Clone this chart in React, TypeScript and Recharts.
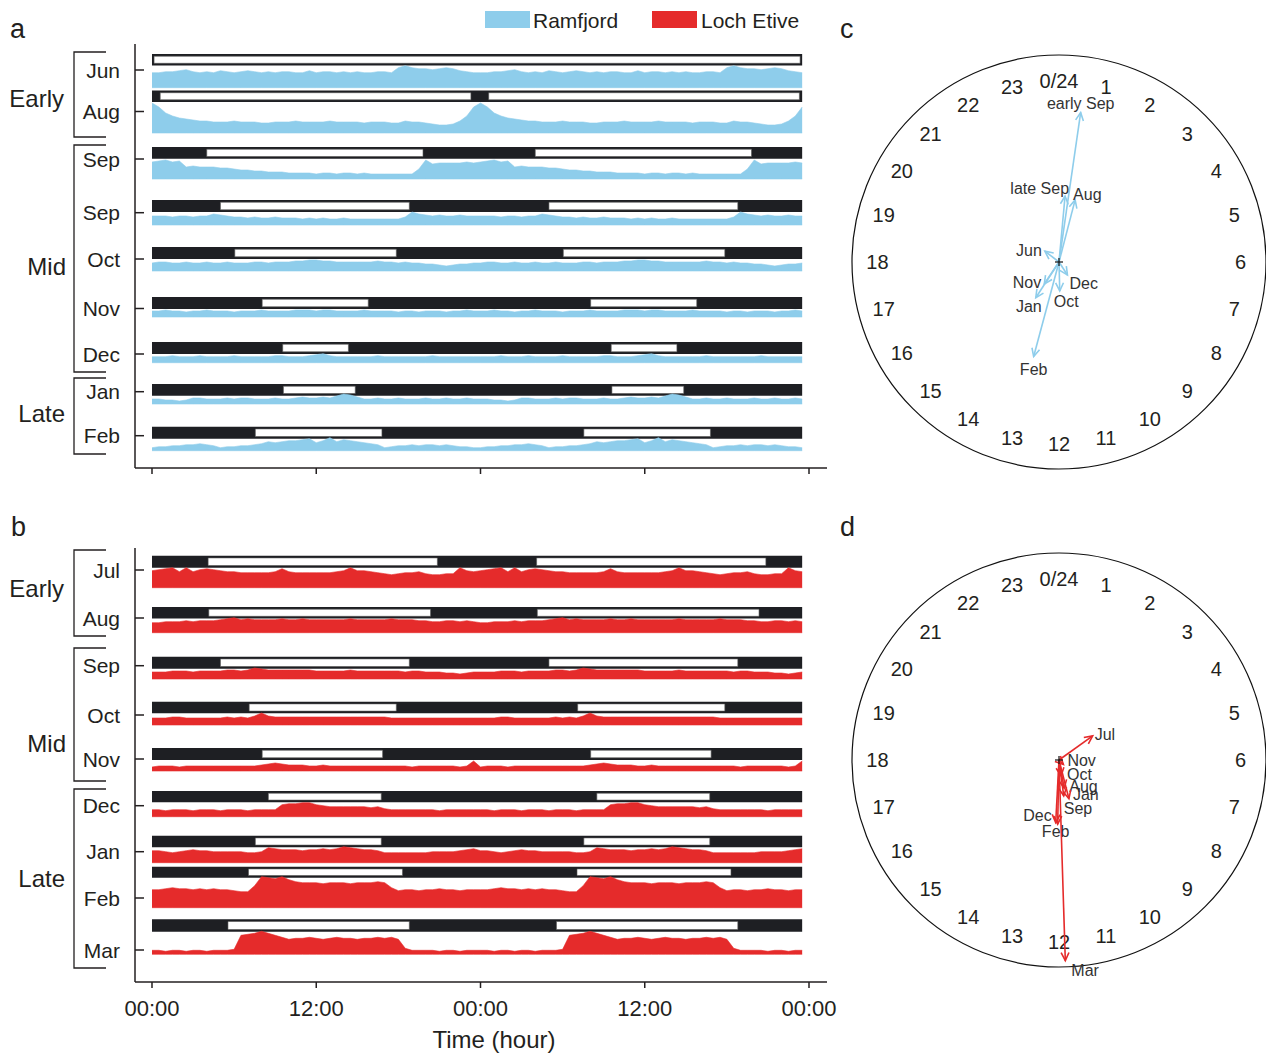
import React from 'react';
import {
  ComposedChart, Area, XAxis, YAxis, ReferenceArea,
  ScatterChart, Scatter, ReferenceDot,
} from 'recharts';

const FONT = '"Liberation Sans", Arial, Helvetica, sans-serif';
const BLUE = '#8ecdeb';
const RED = '#e52b2b';
const INK = '#231f20';
const NIGHT = '#1e1f23';

// ---------- Ramfjord (panel a) : 24-h activity profiles, half-hour bins 00:00..23:30 ----------
const RAM_MONTHS = ['Jun', 'Aug', 'Sep', 'Sep', 'Oct', 'Nov', 'Dec', 'Jan', 'Feb'];
const RAM_JUN = [15,15,16,16,17,18,16,15,16,15,17,16,15,16,17,16,15,16,15,16,16,15,15,17,15,16,16,15,16,15,16,15,15,16,16,15,20,22,20,19,19,18,19,20,19,17,16,15];
const RAM_AUG = [30,26,20,17,15,14,13,12,12,11,11,11,12,11,11,11,10,10,11,11,11,12,11,11,11,11,12,11,11,11,11,10,11,11,11,10,10,12,11,11,10,9,8,8,9,12,17,26];
const RAM_SEP1 = [17,18,19,17,18,12,13,12,12,12,11,11,10,9,9,8,8,7,7,7,6,6,6,6,5,6,6,5,6,6,5,6,5,5,5,5,5,5,5,10,19,15,16,16,16,16,17,16];
const RAM_SEP2 = [9,9,9,8,9,9,8,9,9,11,10,9,8,8,7,8,7,7,8,7,7,7,6,7,6,7,6,6,7,6,6,6,6,6,6,6,6,8,13,11,10,9,10,9,9,10,9,9];
const RAM_OCT = [8,9,9,8,8,9,8,8,9,8,8,9,8,8,8,9,9,8,9,9,9,10,10,11,11,10,10,9,9,9,9,9,9,10,9,9,8,9,8,8,7,7,6,5,6,7,7,8];
const RAM_NOV = [6,6,7,6,6,5,6,6,7,6,6,6,5,6,6,6,7,6,6,6,6,7,7,7,6,7,7,6,6,6,6,7,6,6,6,6,5,6,6,5,6,6,6,5,6,6,7,6];
const RAM_DEC = [6,6,6,7,6,6,6,7,6,6,6,6,7,6,6,6,6,6,7,7,6,6,6,7,8,9,7,6,6,6,6,6,6,7,6,6,6,6,6,6,6,7,6,6,6,6,6,6];
const RAM_JAN = [5,5,4,4,3,4,6,6,5,5,5,6,5,6,6,5,5,5,6,5,5,6,7,6,6,7,6,8,10,9,7,5,5,6,5,5,6,5,5,5,6,5,5,6,5,5,6,5];
const RAM_FEB = [3,4,4,5,5,6,6,7,6,5,3,4,4,5,5,6,7,9,8,9,10,10,11,12,8,10,13,9,11,10,9,8,7,6,3,4,5,5,6,5,6,6,5,6,5,4,4,3];
const RAM_SUNRISE = [0, 0.6, 4.0, 5.0, 6.05, 8.05, 9.55, 9.6, 7.55];
const RAM_SUNSET = [24, 23.3, 19.8, 18.8, 17.85, 15.8, 14.35, 14.85, 16.8];

// ---------- Loch Etive (panel b) ----------
const LE_MONTHS = ['Jul', 'Aug', 'Sep', 'Oct', 'Nov', 'Dec', 'Jan', 'Feb', 'Mar'];
const LE_JUL = [17,18,19,20,16,20,16,18,19,18,17,16,16,15,15,15,15,15,16,19,16,15,15,15,15,15,15,16,17,20,17,17,16,15,14,13,14,15,15,16,14,13,13,14,14,20,17,16];
const LE_AUG = [10,10,11,11,11,12,11,12,12,12,13,14,15,13,14,13,13,13,13,14,13,13,14,13,13,13,13,13,13,14,13,13,13,13,13,14,13,13,13,12,12,11,11,12,12,11,12,11];
const LE_SEP = [7,7,7,8,8,8,7,8,8,8,8,9,9,8,9,11,10,9,9,9,9,9,9,9,8,8,8,8,8,9,8,8,8,8,8,8,8,7,8,8,7,7,7,6,6,5,6,7];
const LE_OCT = [7,7,7,8,8,7,7,7,7,7,7,8,7,8,7,9,12,9,8,8,8,8,8,8,8,8,8,8,8,8,8,8,8,8,8,7,7,7,7,7,7,7,7,7,7,7,7,7];
const LE_NOV = [4,5,5,5,4,5,5,5,5,5,5,5,5,5,5,5,6,7,8,7,6,6,6,5,5,6,5,5,5,5,5,5,5,5,5,5,5,5,4,5,5,5,5,5,5,4,5,10];
const LE_DEC = [7,7,6,7,7,7,6,7,7,7,6,7,7,7,6,7,7,7,7,12,13,13,14,14,12,11,10,10,10,10,10,10,9,10,8,7,7,7,7,7,7,7,6,7,7,7,7,7];
const LE_JAN = [12,12,11,10,11,12,13,12,12,11,11,11,11,11,10,10,11,15,14,13,13,13,12,13,13,14,13,14,16,15,14,13,13,12,10,10,10,10,10,10,10,11,11,11,11,12,13,14];
const LE_FEB = [18,18,19,20,19,19,18,19,18,19,18,18,17,16,16,22,31,30,29,31,28,26,25,25,25,24,25,25,25,24,25,25,25,26,25,20,17,18,18,17,18,18,19,18,18,17,18,18];
const LE_MAR = [4,4,3,4,4,3,4,4,3,4,4,4,5,19,20,21,23,21,19,17,15,16,16,17,16,15,16,17,16,16,15,16,16,17,16,17,15,6,4,4,4,4,3,4,4,3,4,4];
const LE_SUNRISE = [4.1, 4.15, 5.0, 7.1, 8.05, 8.5, 7.55, 7.05, 5.55];
const LE_SUNSET = [20.85, 20.35, 18.8, 17.85, 16.85, 16.75, 16.75, 18.3, 18.8];

// ---------- Clock vectors (mean phase hour, vector length relative to circle) ----------
const RAM_VEC_LABELS = ['early Sep', 'late Sep', 'Aug', 'Jun', 'Dec', 'Oct', 'Nov', 'Jan', 'Feb'];
const RAM_VEC_HOUR = [0.55, 0.35, 0.97, 20.5, 9.8, 11.9, 14.25, 14.2, 13.0];
const RAM_VEC_LEN = [0.73, 0.32, 0.31, 0.086, 0.075, 0.14, 0.128, 0.206, 0.473];
const LE_VEC_LABELS = ['Jul', 'Nov', 'Oct', 'Aug', 'Jan', 'Sep', 'Dec', 'Feb', 'Mar'];
const LE_VEC_HOUR = [3.63, 9.0, 11.5, 11.3, 11.04, 11.5, 12.2, 12.08, 11.88];
const LE_VEC_LEN = [0.2, 0.03, 0.077, 0.138, 0.193, 0.175, 0.303, 0.31, 0.97];

const CLOCK_HOURS = [0,1,2,3,4,5,6,7,8,9,10,11,12,13,14,15,16,17,18,19,20,21,22,23];
const CLOCK_LABELS = ['0/24','1','2','3','4','5','6','7','8','9','10','11','12','13','14','15','16','17','18','19','20','21','22','23'];

const X_TICKS = [0, 12, 24, 36, 48];
const X_TICK_LABELS = ['00:00', '12:00', '00:00', '12:00', '00:00'];

// ---------- layout (pixels) ----------
// rows: [barTop, barBottom, areaBaseline, tickY]
const RAM_ROWS = [
  [54, 65.5, 87.7, 70], [90.5, 102, 133, 111.5], [147, 158.7, 179, 159], [200, 212, 225, 212.7],
  [247, 259, 271, 259], [297, 309, 317, 308.5], [342, 354, 362.7, 354], [384, 395.7, 404, 391.7],
  [426.7, 438.7, 450.7, 435.7],
];
const LE_ROWS = [
  [555.7, 567.7, 587.7, 570], [607, 618.5, 632.7, 618], [656.7, 668.7, 679, 665.7], [701.7, 713.3, 725, 715],
  [748, 760, 771, 759], [791, 802.3, 816.7, 805.7], [835.7, 847.3, 862.7, 851.7], [866.7, 877.7, 907.7, 898],
  [919.3, 931.7, 954.3, 950],
];
const X_DOMAIN: [number, number] = [-1.242, 49.315];
const DATA_END = 47.5;
const TIME_BINS = Array.from({ length: 96 }, (_, i) => i * 0.5);

// label offsets for arrow labels [dx, dy, anchor]
const RAM_LABEL_POS: [number, number, string][] = [
  [0, -9, 'middle'], [4, -8, 'end'], [-2, -6, 'start'], [-3, -1, 'end'], [2, 8, 'start'],
  [-6, 10, 'start'], [-3, -2, 'end'], [6, 8, 'end'], [0, 13, 'middle'],
];
const LE_LABEL_POS: [number, number, string][] = [
  [2, -2, 'start'], [4, -4, 'start'], [6, -2, 'start'], [5, -2, 'start'], [4, -4, 'start'],
  [0, 12, 'start'], [-4, -7, 'end'], [-2, 7, 'middle'], [6, 10, 'start'],
];

function dayIntervals(sr: number, ss: number) {
  const iv = [[sr, ss], [sr + 24, ss + 24]]
    .map(([a, b]) => [Math.max(0, a), Math.min(DATA_END, b)])
    .filter(([a, b]) => b > a);
  const out: number[][] = [];
  iv.forEach(([a, b]) => {
    const last = out[out.length - 1];
    if (last && a <= last[1] + 1e-6) last[1] = Math.max(last[1], b);
    else out.push([a, b]);
  });
  return out.map(([a, b]) => [a <= 0 ? 0.15 : a, b >= DATA_END ? DATA_END - 0.15 : b]);
}

const MonthTick = (props: any) => {
  const { x, y, label } = props;
  return (
    <g>
      <line x1={x} x2={x + 9} y1={y} y2={y} stroke={INK} strokeWidth={1.5} />
      <text x={x - 15} y={y} dy="0.36em" textAnchor="end" fontSize={21} fill={INK} fontFamily={FONT}>{label}</text>
    </g>
  );
};

function Actogram(props: any) {
  const { top, plotH, axisH, months, profiles, sunrise, sunset, rows, color, showTickLabels } = props;
  const data = TIME_BINS.map((t, k) => {
    const r: any = { t };
    profiles.forEach((p: number[], i: number) => { r['v' + i] = p[k % 48]; });
    return r;
  });
  const ticks = rows.map((r: number[]) => r[3] - top);
  return (
    <div style={{ position: 'absolute', left: 0, top }}>
      <ComposedChart width={862} height={plotH + axisH} data={data} margin={{ top: 0, right: 35, bottom: 0, left: 0 }}>
        <XAxis
          type="number" dataKey="t" domain={X_DOMAIN} allowDataOverflow ticks={X_TICKS} interval={0}
          tickFormatter={(v: number) => (showTickLabels ? X_TICK_LABELS[X_TICKS.indexOf(v)] : '')}
          height={axisH} tickSize={6} tickMargin={12}
          axisLine={{ stroke: INK, strokeWidth: 1.5 }} tickLine={{ stroke: INK, strokeWidth: 1.5 }}
          tick={{ fontSize: 22, fill: INK, fontFamily: FONT }}
        />
        <YAxis
          type="number" domain={[0, plotH]} reversed allowDataOverflow ticks={ticks} interval={0}
          width={135} tickSize={0} tickMargin={0} tickLine={false}
          axisLine={{ stroke: INK, strokeWidth: 1.5 }}
          tick={(p: any) => {
            const idx = ticks.indexOf(p.payload.value);
            return <MonthTick x={p.x} y={p.y} label={months[idx >= 0 ? idx : p.index]} />;
          }}
        />
        {rows.map((r: number[], i: number) => (
          <ReferenceArea key={'n' + i} x1={0} x2={DATA_END} y1={r[0] - top} y2={r[1] - top}
            fill={NIGHT} fillOpacity={1} stroke="none" ifOverflow="visible" />
        ))}
        {rows.map((r: number[], i: number) =>
          dayIntervals(sunrise[i], sunset[i]).map(([a, b], j) => (
            <ReferenceArea key={'d' + i + '-' + j} x1={a} x2={b} y1={r[0] - top + 2.2} y2={r[1] - top - 2.2}
              fill="#ffffff" fillOpacity={1} stroke="#555" strokeWidth={0.6} ifOverflow="visible" />
          ))
        )}
        {profiles.map((_: number[], i: number) => {
          const base = rows[i][2] - top;
          return (
            <Area key={'a' + i} type="linear"
              dataKey={(d: any) => [base, base - d['v' + i]]}
              fill={color} fillOpacity={1} stroke={color} strokeWidth={0.6}
              dot={false} activeDot={false} isAnimationActive={false} />
          );
        })}
      </ComposedChart>
    </div>
  );
}

function makeArrowShape(color: string) {
  return (props: any) => {
    const { cx, cy, payload } = props;
    if (!payload || !payload.tip || cx == null) return <g />;
    const a = (payload.hour / 24) * 2 * Math.PI;
    const ux = Math.sin(a);
    const uy = -Math.cos(a);
    const L = 9;
    const head = (s: number) => {
      const rx = ux * Math.cos(s) - uy * Math.sin(s);
      const ry = ux * Math.sin(s) + uy * Math.cos(s);
      return [cx - L * rx, cy - L * ry];
    };
    const [ax, ay] = head(0.45);
    const [bx, by] = head(-0.45);
    return (
      <g>
        <polyline points={`${ax},${ay} ${cx},${cy} ${bx},${by}`} fill="none" stroke={color} strokeWidth={1.6} />
        <text x={cx + payload.dx} y={cy + payload.dy} dy="0.36em" textAnchor={payload.anchor}
          fontSize={16} fill="#333" fontFamily={FONT}>{payload.label}</text>
      </g>
    );
  };
}

const HourLabel = (props: any) => {
  const { cx, cy, payload } = props;
  if (cx == null) return <g />;
  return (
    <text x={cx} y={cy} dy="0.36em" textAnchor="middle" fontSize={20} fill={INK} fontFamily={FONT}>{payload.label}</text>
  );
};

const CenterPlus = (props: any) => {
  const { cx, cy } = props;
  if (cx == null) return <g />;
  return (
    <g stroke="#111" strokeWidth={1.2}>
      <line x1={cx - 4} x2={cx + 4} y1={cy} y2={cy} />
      <line x1={cx} x2={cx} y1={cy - 4} y2={cy + 4} />
    </g>
  );
};

const CLOCK_R_PX = 207;
const CLOCK_S = 470;

function Clock(props: any) {
  const { cx, cy, labels, hours, lens, labelPos, color } = props;
  const S = CLOCK_S;
  const DOM = S / (2 * CLOCK_R_PX);
  const hourData = CLOCK_HOURS.map((h) => ({
    x: 0.877 * Math.sin((h * Math.PI) / 12),
    y: 0.877 * Math.cos((h * Math.PI) / 12),
    label: CLOCK_LABELS[h],
  }));
  const arrowShape = makeArrowShape(color);
  return (
    <div style={{ position: 'absolute', left: cx - S / 2, top: cy - S / 2 }}>
      <ScatterChart width={S} height={S} margin={{ top: 0, right: 0, bottom: 0, left: 0 }}>
        <XAxis type="number" dataKey="x" domain={[-DOM, DOM]} hide allowDataOverflow />
        <YAxis type="number" dataKey="y" domain={[-DOM, DOM]} hide allowDataOverflow />
        <ReferenceDot x={0} y={0} r={CLOCK_R_PX} fill="none" stroke="#111" strokeWidth={1.2} ifOverflow="visible" />
        <Scatter data={hourData} shape={HourLabel} isAnimationActive={false} />
        {labels.map((lab: string, i: number) => {
          const a = (hours[i] / 24) * 2 * Math.PI;
          const d = [
            { x: 0, y: 0 },
            {
              x: lens[i] * Math.sin(a), y: lens[i] * Math.cos(a), tip: true, hour: hours[i], label: lab,
              dx: labelPos[i][0], dy: labelPos[i][1], anchor: labelPos[i][2],
            },
          ];
          return (
            <Scatter key={'v' + i} data={d} fill={color} line={{ stroke: color, strokeWidth: 1.6 }}
              lineType="joint" shape={arrowShape} isAnimationActive={false} />
          );
        })}
        <Scatter data={[{ x: 0, y: 0 }]} shape={CenterPlus} isAnimationActive={false} />
      </ScatterChart>
    </div>
  );
}

function Overlay() {
  const t = { fontFamily: FONT, fill: INK } as any;
  const bracket = (x: number, y1: number, y2: number, k: string) => (
    <path key={k} d={`M106 ${y1} H${x} V${y2} H106`} fill="none" stroke={INK} strokeWidth={1.3} />
  );
  return (
    <svg width={1266} height={1054} style={{ position: 'absolute', left: 0, top: 0, pointerEvents: 'none' }}>
      <text x={10} y={38} fontSize={27} {...t}>a</text>
      <text x={11} y={536} fontSize={27} {...t}>b</text>
      <text x={840} y={38} fontSize={27} {...t}>c</text>
      <text x={840} y={536} fontSize={27} {...t}>d</text>

      <rect x={485} y={11} width={45} height={17} fill={BLUE} />
      <text x={533} y={28} fontSize={21} {...t}>Ramfjord</text>
      <rect x={652} y={11} width={45} height={17} fill={RED} />
      <text x={701} y={28} fontSize={21} {...t}>Loch Etive</text>

      {bracket(74, 52, 137, 'a1')}
      {bracket(74, 145, 372, 'a2')}
      {bracket(74, 378, 454, 'a3')}
      <text x={64} y={107} fontSize={24} textAnchor="end" {...t}>Early</text>
      <text x={66} y={275} fontSize={24} textAnchor="end" {...t}>Mid</text>
      <text x={65} y={422} fontSize={24} textAnchor="end" {...t}>Late</text>

      {bracket(74, 550, 636, 'b1')}
      {bracket(74, 648, 781, 'b2')}
      {bracket(74, 789, 968, 'b3')}
      <text x={64} y={597} fontSize={24} textAnchor="end" {...t}>Early</text>
      <text x={66} y={752} fontSize={24} textAnchor="end" {...t}>Mid</text>
      <text x={65} y={887} fontSize={24} textAnchor="end" {...t}>Late</text>

      <text x={494} y={1048} fontSize={24} textAnchor="middle" {...t}>Time (hour)</text>
    </svg>
  );
}

export default function App() {
  return (
    <div style={{ position: 'absolute', left: 0, top: 0, width: 1266, height: 1054, overflow: 'hidden', background: '#fff', fontFamily: FONT }}>
      <Actogram
        top={44} plotH={424} axisH={30} months={RAM_MONTHS}
        profiles={[RAM_JUN, RAM_AUG, RAM_SEP1, RAM_SEP2, RAM_OCT, RAM_NOV, RAM_DEC, RAM_JAN, RAM_FEB]}
        sunrise={RAM_SUNRISE} sunset={RAM_SUNSET} rows={RAM_ROWS} color={BLUE} showTickLabels={false}
      />
      <Actogram
        top={548} plotH={434} axisH={50} months={LE_MONTHS}
        profiles={[LE_JUL, LE_AUG, LE_SEP, LE_OCT, LE_NOV, LE_DEC, LE_JAN, LE_FEB, LE_MAR]}
        sunrise={LE_SUNRISE} sunset={LE_SUNSET} rows={LE_ROWS} color={RED} showTickLabels={true}
      />
      <Clock cx={1058.5} cy={262} labels={RAM_VEC_LABELS} hours={RAM_VEC_HOUR} lens={RAM_VEC_LEN} labelPos={RAM_LABEL_POS} color={BLUE} />
      <Clock cx={1058.5} cy={760} labels={LE_VEC_LABELS} hours={LE_VEC_HOUR} lens={LE_VEC_LEN} labelPos={LE_LABEL_POS} color={RED} />
      <Overlay />
    </div>
  );
}
